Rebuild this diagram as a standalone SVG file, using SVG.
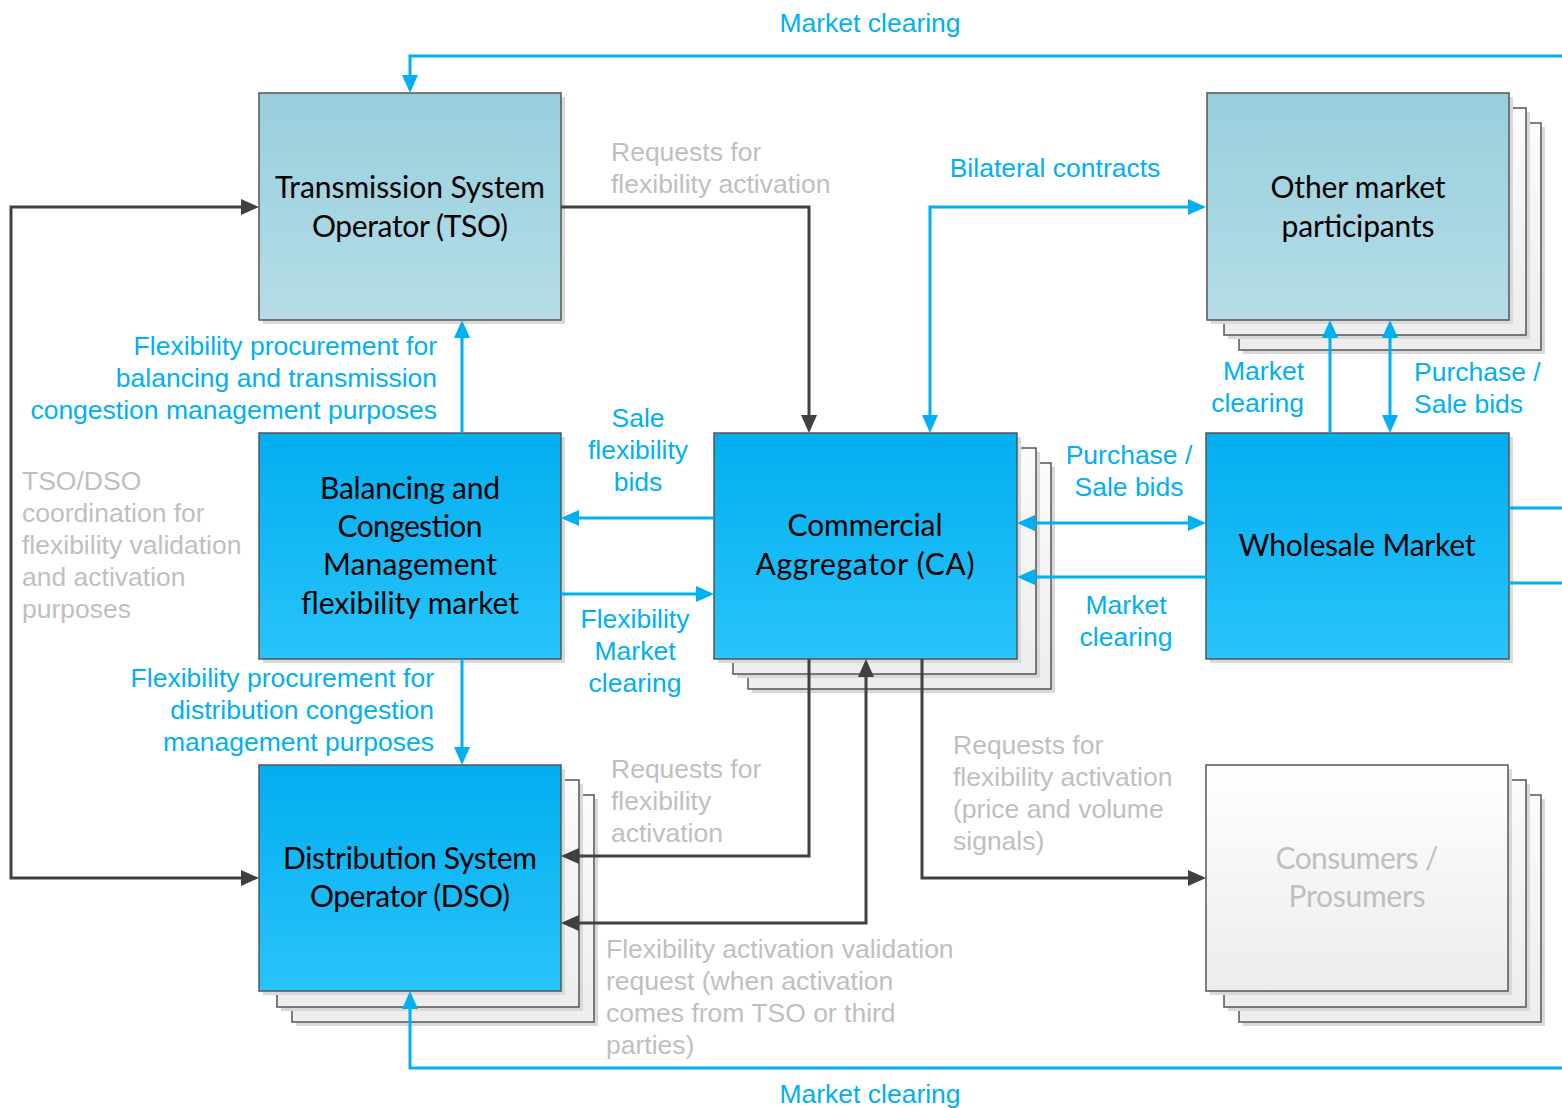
<svg xmlns="http://www.w3.org/2000/svg" width="1562" height="1108" viewBox="0 0 1562 1108">
<style>
.box{stroke:#555;stroke-width:1.5}
.sh{fill:#d9d9d9}
.stk{fill:url(#gStack);stroke:#555;stroke-width:1.5}
.teal{fill:url(#gTeal)}
.blue{fill:url(#gBlue)}
.white{fill:url(#gWhite)}
.nt{font-family:Lato,"Liberation Sans",sans-serif;font-size:30px;fill:#000;text-anchor:middle}
.ntg{fill:#bfbfbf}
.lb{font-family:"Liberation Sans",Arial,sans-serif;font-size:26.5px;fill:#00b0f0}
.lg{font-family:"Liberation Sans",Arial,sans-serif;font-size:26.5px;fill:#bfbfbf}
.c{text-anchor:middle}
.r{text-anchor:end}
.cb{fill:none;stroke:#00b0f0;stroke-width:3}
.cd{fill:none;stroke:#404040;stroke-width:3}
</style>
<defs>
<linearGradient id="gTeal" x1="0" y1="0" x2="0" y2="1"><stop offset="0" stop-color="#98cfdd"/><stop offset="1" stop-color="#b5dde8"/></linearGradient>
<linearGradient id="gBlue" x1="0" y1="0" x2="0" y2="1"><stop offset="0" stop-color="#02aeef"/><stop offset="1" stop-color="#28c4fb"/></linearGradient>
<linearGradient id="gWhite" x1="0" y1="0" x2="0" y2="1"><stop offset="0" stop-color="#ffffff"/><stop offset="1" stop-color="#ececec"/></linearGradient>
<linearGradient id="gStack" x1="0" y1="0" x2="0" y2="1"><stop offset="0" stop-color="#fbfbfb"/><stop offset="1" stop-color="#ededed"/></linearGradient>
<marker id="ab" markerUnits="userSpaceOnUse" markerWidth="18" markerHeight="16" viewBox="0 0 18 16" refX="14" refY="8" orient="auto-start-reverse"><path d="M0,0 L18,8 L0,16 z" fill="#00b0f0"/></marker>
<marker id="ad" markerUnits="userSpaceOnUse" markerWidth="18" markerHeight="16" viewBox="0 0 18 16" refX="14" refY="8" orient="auto-start-reverse"><path d="M0,0 L18,8 L0,16 z" fill="#404040"/></marker>
</defs>

<g id="tso">
<rect class="sh" x="263" y="97" width="302" height="227"/>
<rect class="box teal" x="259" y="93" width="302" height="227"/>
<text class="nt" x="410" y="198" textLength="270">Transmission System</text>
<text class="nt" x="410" y="237" textLength="196">Operator (TSO)</text>
</g>

<g id="other-market">
<rect class="sh" x="1243" y="127" width="302" height="227"/>
<rect class="stk" x="1239" y="123" width="302" height="227"/>
<rect class="sh" x="1228" y="112" width="302" height="227"/>
<rect class="stk" x="1224" y="108" width="302" height="227"/>
<rect class="sh" x="1211" y="97" width="302" height="227"/>
<rect class="box teal" x="1207" y="93" width="302" height="227"/>
<text class="nt" x="1358" y="198" textLength="175">Other market</text>
<text class="nt" x="1358" y="237" textLength="153">participants</text>
</g>

<g id="bcm">
<rect class="sh" x="263" y="437" width="302" height="226"/>
<rect class="box blue" x="259" y="433" width="302" height="226"/>
<text class="nt" x="410" y="499" textLength="180">Balancing and</text>
<text class="nt" x="410" y="537" textLength="145">Congestion</text>
<text class="nt" x="410" y="575" textLength="174">Management</text>
<text class="nt" x="410" y="614" textLength="218">flexibility market</text>
</g>

<g id="ca">
<rect class="sh" x="752" y="467" width="303" height="226"/>
<rect class="stk" x="748" y="463" width="303" height="226"/>
<rect class="sh" x="737" y="452" width="303" height="226"/>
<rect class="stk" x="733" y="448" width="303" height="226"/>
<rect class="sh" x="718" y="437" width="303" height="226"/>
<rect class="box blue" x="714" y="433" width="303" height="226"/>
<text class="nt" x="865" y="536" textLength="155">Commercial</text>
<text class="nt" x="865" y="575" textLength="219">Aggregator (CA)</text>
</g>

<g id="wholesale">
<rect class="sh" x="1210" y="437" width="303" height="226"/>
<rect class="box blue" x="1206" y="433" width="303" height="226"/>
<text class="nt" x="1357" y="556" textLength="237">Wholesale Market</text>
</g>

<g id="dso">
<rect class="sh" x="296" y="799" width="302" height="227"/>
<rect class="stk" x="292" y="795" width="302" height="227"/>
<rect class="sh" x="281" y="784" width="302" height="227"/>
<rect class="stk" x="277" y="780" width="302" height="227"/>
<rect class="sh" x="263" y="769" width="302" height="226"/>
<rect class="box blue" x="259" y="765" width="302" height="226"/>
<text class="nt" x="410" y="869" textLength="254">Distribution System</text>
<text class="nt" x="410" y="907" textLength="200">Operator (DSO)</text>
</g>

<g id="consumers">
<rect class="sh" x="1243" y="799" width="302" height="227"/>
<rect class="stk" x="1239" y="795" width="302" height="227"/>
<rect class="sh" x="1228" y="784" width="302" height="227"/>
<rect class="stk" x="1224" y="780" width="302" height="227"/>
<rect class="sh" x="1210" y="769" width="302" height="226"/>
<rect class="box white" x="1206" y="765" width="302" height="226"/>
<text class="nt ntg" x="1357" y="869" textLength="163">Consumers /</text>
<text class="nt ntg" x="1357" y="907" textLength="137">Prosumers</text>
</g>

<g id="connectors">
<path class="cb" d="M1562,56 H410 V89" marker-end="url(#ab)"/>
<path class="cb" d="M1562,1068 H410 V995" marker-end="url(#ab)"/>
<path class="cb" d="M1509,508 H1562"/>
<path class="cb" d="M1509,583 H1562"/>
<path class="cd" d="M561,207 H809 V429" marker-end="url(#ad)"/>
<path class="cb" d="M930,429 V207 H1202" marker-start="url(#ab)" marker-end="url(#ab)"/>
<path class="cb" d="M462,433 V324" marker-end="url(#ab)"/>
<path class="cb" d="M462,659 V761" marker-end="url(#ab)"/>
<path class="cb" d="M714,518 H565" marker-end="url(#ab)"/>
<path class="cb" d="M561,594 H710" marker-end="url(#ab)"/>
<path class="cb" d="M1021,523 H1202" marker-start="url(#ab)" marker-end="url(#ab)"/>
<path class="cb" d="M1206,577 H1021" marker-end="url(#ab)"/>
<path class="cb" d="M1330,433 V324" marker-end="url(#ab)"/>
<path class="cb" d="M1390,324 V429" marker-start="url(#ab)" marker-end="url(#ab)"/>
<path class="cd" d="M809,659 V856 H565" marker-end="url(#ad)"/>
<path class="cd" d="M565,923 H866 V663" marker-start="url(#ad)" marker-end="url(#ad)"/>
<path class="cd" d="M922,659 V878 H1202" marker-end="url(#ad)"/>
<path class="cd" d="M255,207 H11 V878 H255" marker-start="url(#ad)" marker-end="url(#ad)"/>
</g>

<g id="labels">
<text class="lb c" x="870" y="32">Market clearing</text>
<text class="lb c" x="870" y="1103">Market clearing</text>
<text class="lg" x="611" y="161">Requests for</text>
<text class="lg" x="611" y="193">flexibility activation</text>
<text class="lb c" x="1055" y="177">Bilateral contracts</text>
<text class="lb r" x="437" y="355">Flexibility procurement for</text>
<text class="lb r" x="437" y="387">balancing and transmission</text>
<text class="lb r" x="437" y="419">congestion management purposes</text>
<text class="lg" x="22" y="490">TSO/DSO</text>
<text class="lg" x="22" y="522">coordination for</text>
<text class="lg" x="22" y="554">flexibility validation</text>
<text class="lg" x="22" y="586">and activation</text>
<text class="lg" x="22" y="618">purposes</text>
<text class="lb c" x="638" y="427">Sale</text>
<text class="lb c" x="638" y="459">flexibility</text>
<text class="lb c" x="638" y="491">bids</text>
<text class="lb c" x="635" y="628">Flexibility</text>
<text class="lb c" x="635" y="660">Market</text>
<text class="lb c" x="635" y="692">clearing</text>
<text class="lb c" x="1129" y="464">Purchase /</text>
<text class="lb c" x="1129" y="496">Sale bids</text>
<text class="lb c" x="1126" y="614">Market</text>
<text class="lb c" x="1126" y="646">clearing</text>
<text class="lb r" x="1304" y="380">Market</text>
<text class="lb r" x="1304" y="412">clearing</text>
<text class="lb" x="1414" y="381">Purchase /</text>
<text class="lb" x="1414" y="413">Sale bids</text>
<text class="lb r" x="434" y="687">Flexibility procurement for</text>
<text class="lb r" x="434" y="719">distribution congestion</text>
<text class="lb r" x="434" y="751">management purposes</text>
<text class="lg" x="611" y="778">Requests for</text>
<text class="lg" x="611" y="810">flexibility</text>
<text class="lg" x="611" y="842">activation</text>
<text class="lg" x="606" y="958">Flexibility activation validation</text>
<text class="lg" x="606" y="990">request (when activation</text>
<text class="lg" x="606" y="1022">comes from TSO or third</text>
<text class="lg" x="606" y="1054">parties)</text>
<text class="lg" x="953" y="754">Requests for</text>
<text class="lg" x="953" y="786">flexibility activation</text>
<text class="lg" x="953" y="818">(price and volume</text>
<text class="lg" x="953" y="850">signals)</text>
</g>
</svg>
